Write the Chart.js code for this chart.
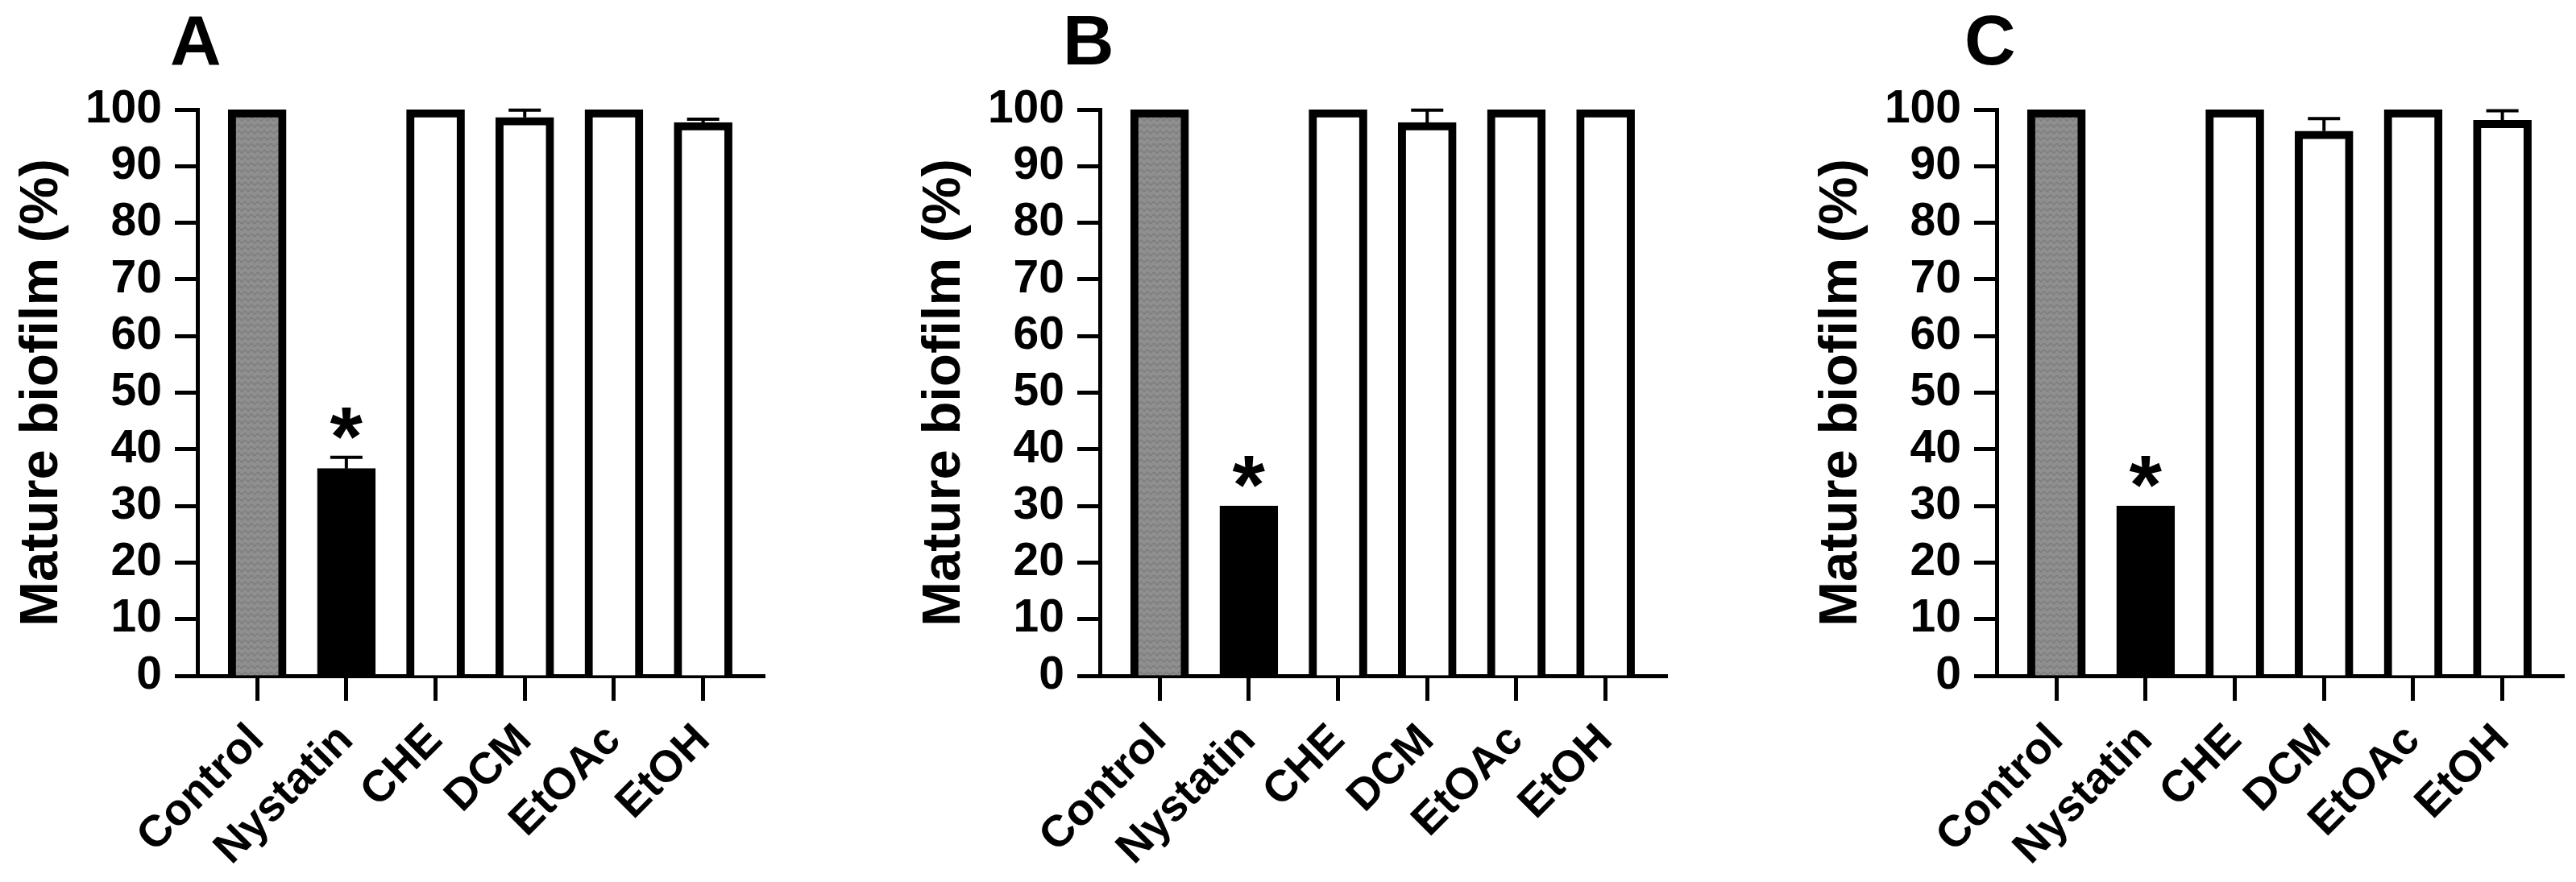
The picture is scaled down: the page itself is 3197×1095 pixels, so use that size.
<!DOCTYPE html>
<html>
<head>
<meta charset="utf-8">
<script src="https://cdn.jsdelivr.net/npm/chart.js@4/dist/chart.umd.min.js"></script>
<style>
  html, body { margin: 0; padding: 0; background: #fff; overflow: hidden; }
  canvas { position: absolute; top: 0; }
</style>
</head>
<body>
<canvas id="chartA" width="960" height="1095" style="left:0px"></canvas>
<canvas id="chartB" width="960" height="1095" style="left:1120px"></canvas>
<canvas id="chartC" width="960" height="1095" style="left:2233px"></canvas>
<script>
// data
var categories = ['Control', 'Nystatin', 'CHE', 'DCM', 'EtOAc', 'EtOH'];
var valuesA = [100, 36.6, 100, 98.6, 100, 97.7];
var errorsA = [0, 2.0, 0, 1.3, 0, 0.6];
var valuesB = [100, 30, 100, 97.7, 100, 100];
var errorsB = [0, 0, 0, 2.2, 0, 0];
var valuesC = [100, 30, 100, 96.2, 100, 98.1];
var errorsC = [0, 0, 0, 2.2, 0, 1.7];
var stars = ['', '*', '', '', '', ''];
var yTitle = 'Mature biofilm (%)';

var FONT = '"Liberation Sans", Arial, sans-serif';

// grey zig-zag texture for the control bar
function greyPattern() {
    var c = document.createElement('canvas');
    c.width = 8; c.height = 8;
    var g = c.getContext('2d');
    g.fillStyle = '#8f8f8f';
    g.fillRect(0, 0, 8, 8);
    g.strokeStyle = '#7c7c7c';
    g.lineWidth = 1.5;
    g.beginPath();
    g.moveTo(0, 2); g.lineTo(4, 6); g.lineTo(8, 2);
    g.stroke();
    return g.createPattern(c, 'repeat');
}

var fills = [greyPattern(), '#000', '#fff', '#fff', '#fff', '#fff'];

// error bars, significance stars and panel letter
var extras = {
    id: 'extras',
    afterDatasetsDraw: function (chart) {
        var o = chart.options.plugins.extras;
        var x = chart.scales.x, y = chart.scales.y, ctx = chart.ctx;
        ctx.save();
        ctx.strokeStyle = '#000';
        ctx.fillStyle = '#000';
        ctx.lineWidth = 4;
        o.values.forEach(function (v, i) {
            var px = x.getPixelForValue(i);
            var top = v + o.errors[i];
            if (o.errors[i] > 0) {
                var y0 = y.getPixelForValue(v), y1 = y.getPixelForValue(top);
                ctx.beginPath();
                ctx.moveTo(px, y0); ctx.lineTo(px, y1);
                ctx.moveTo(px - 20, y1); ctx.lineTo(px + 20, y1);
                ctx.stroke();
            }
            if (o.stars[i]) {
                ctx.font = 'bold 104px ' + FONT;
                ctx.textAlign = 'center';
                ctx.textBaseline = 'alphabetic';
                ctx.fillText(o.stars[i], px, y.getPixelForValue(top) + 10);
            }
        });
        ctx.font = 'bold 88px ' + FONT;
        ctx.textAlign = 'left';
        ctx.textBaseline = 'alphabetic';
        ctx.fillText(o.letter, chart.chartArea.left + o.letterShift, 80);
        ctx.restore();
    }
};

function makeChart(id, letter, letterShift, values, errors) {
    return new Chart(document.getElementById(id), {
        type: 'bar',
        data: {
            datasets: [{
                data: values.map(function (v, i) { return { x: i, y: v }; }),
                backgroundColor: fills,
                borderColor: '#000',
                borderWidth: 10,
                borderSkipped: 'start',
                barThickness: 72
            }]
        },
        options: {
            responsive: false,
            animation: false,
            devicePixelRatio: 1,
            layout: { padding: { top: 136, right: 11, bottom: 0, left: 0 } },
            plugins: {
                legend: { display: false },
                tooltip: { enabled: false },
                extras: { letter: letter, letterShift: letterShift, values: values, errors: errors, stars: stars }
            },
            scales: {
                x: {
                    type: 'linear',
                    min: -0.67,
                    max: 5.69,
                    offset: false,
                    afterBuildTicks: function (s) {
                        s.ticks = categories.map(function (c, i) { return { value: i }; });
                    },
                    afterFit: function (s) { s.height = 256; },
                    border: { display: true, color: '#000', width: 5 },
                    grid: { offset: false, drawOnChartArea: false, drawTicks: true, tickLength: 31, tickWidth: 5, tickColor: '#000' },
                    ticks: {
                        autoSkip: false,
                        minRotation: 45,
                        maxRotation: 45,
                        padding: 17,
                        color: '#000',
                        font: { family: FONT, size: 55, weight: 'bold' },
                        callback: function (v) { return categories[v]; }
                    }
                },
                y: {
                    min: 0,
                    max: 100,
                    afterFit: function (s) { s.width = 245; },
                    border: { display: true, color: '#000', width: 5 },
                    grid: { drawOnChartArea: false, drawTicks: true, tickLength: 28, tickWidth: 5, tickColor: '#000' },
                    ticks: {
                        stepSize: 10,
                        autoSkip: false,
                        padding: 16,
                        color: '#000',
                        font: { family: FONT, size: 57, weight: 'bold' }
                    },
                    title: {
                        display: true,
                        text: yTitle,
                        color: '#000',
                        font: { family: FONT, size: 67, weight: 'bold' },
                        padding: { top: 12, bottom: 0 }
                    }
                }
            }
        },
        plugins: [extras]
    });
}

makeChart('chartA', 'A', -34, valuesA, errorsA);
makeChart('chartB', 'B', -46, valuesB, errorsB);
makeChart('chartC', 'C', -40, valuesC, errorsC);
</script>
</body>
</html>
